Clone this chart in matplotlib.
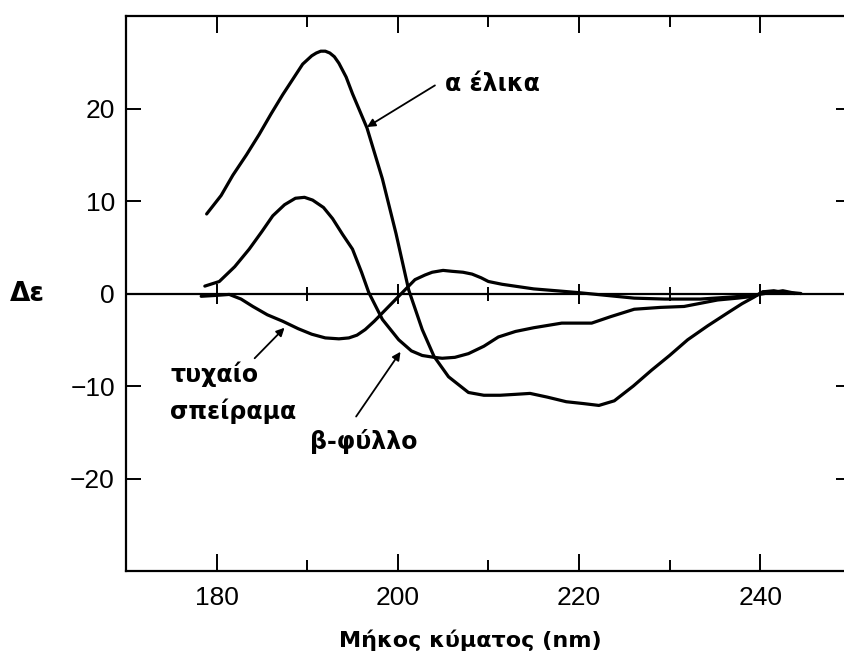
import matplotlib
matplotlib.use("Agg")
import matplotlib.pyplot as plt

# wavelength (nm) and delta-epsilon
alpha_nm = [178.9, 180.5, 181.8, 183.3, 184.7, 186.0, 187.3, 188.5, 189.5, 190.5, 191.0, 191.5, 192.0, 192.5,
            193.0, 193.5, 194.3, 195.0, 196.6, 198.3, 199.8, 201.2, 202.7, 204.0, 205.6, 207.8, 209.5,
            211.3, 213.0, 214.6, 216.5, 218.6, 220.5, 222.2, 223.9, 226.0, 228.0, 230.0, 232.0,
            234.2, 236.4, 238.0, 239.3, 240.3, 241.3, 242.5, 243.5, 244.5]
alpha_de = [8.6, 10.6, 12.8, 15.0, 17.2, 19.4, 21.5, 23.3, 24.8, 25.7, 26.0, 26.2, 26.2, 26.0,
            25.6, 24.9, 23.4, 21.6, 17.9, 12.4, 6.5, 0.4, -3.9, -6.8, -9.0, -10.7, -11.0,
            -11.0, -10.9, -10.8, -11.2, -11.7, -11.9, -12.1, -11.6, -10.0, -8.3, -6.7, -5.0,
            -3.5, -2.1, -1.1, -0.4, 0.2, 0.1, 0.3, 0.1, 0.0]

beta_nm = [178.7, 180.3, 182.0, 183.6, 185.0, 186.2, 187.5, 188.7, 189.7, 190.6, 191.8, 192.8,
           193.9, 195.0, 196.0, 196.8, 198.3, 200.1, 201.5, 202.7, 204.0, 204.9, 206.3, 207.8,
           209.5, 211.1, 213.0, 215.0, 218.1, 221.4, 223.5, 226.1, 229.0, 231.6, 235.3, 237.5,
           239.3, 240.5, 241.5, 242.7, 243.8]
beta_de = [0.8, 1.3, 2.9, 4.8, 6.7, 8.4, 9.6, 10.3, 10.4, 10.1, 9.3, 8.1,
           6.4, 4.8, 2.3, 0.1, -2.8, -5.0, -6.2, -6.7, -6.9, -7.0, -6.9, -6.5,
           -5.7, -4.7, -4.1, -3.7, -3.2, -3.2, -2.5, -1.7, -1.5, -1.4, -0.7, -0.5,
           -0.3, 0.2, 0.3, 0.1, 0.0]

coil_nm = [178.3, 180.0, 181.4, 182.7, 184.0, 185.6, 187.3, 189.0, 190.5, 192.0, 193.5, 194.6,
           195.5, 196.4, 197.4, 198.3, 199.2, 200.1, 201.0, 201.9, 203.0, 203.8, 205.0, 206.0,
           207.2, 208.2, 209.2, 210.0, 211.5, 212.9, 215.0, 218.1, 219.9, 223.0, 226.1, 229.5,
           233.4, 236.5, 239.3, 240.5]
coil_de = [-0.3, -0.2, -0.1, -0.6, -1.4, -2.3, -3.0, -3.8, -4.4, -4.8, -4.9, -4.8,
           -4.5, -3.9, -3.0, -2.1, -1.2, -0.3, 0.6, 1.5, 2.0, 2.3, 2.5, 2.4,
           2.3, 2.1, 1.7, 1.3, 1.0, 0.8, 0.5, 0.25, 0.1, -0.2, -0.5, -0.6,
           -0.6, -0.4, -0.2, 0.0]

major_nm = [180, 200, 220, 240]
minor_nm = [190, 210, 230]
yticks = [-20, -10, 0, 10, 20]
ylabels = ['\u221220', '\u221210', '0', '10', '20']

tick_font = ['Liberation Sans', 'DejaVu Sans']
bold_font = ['DejaVu Sans']

fig = plt.figure(figsize=(8.44, 6.57), dpi=100)
ax = fig.add_axes([0.1493, 0.1309, 0.8587, 0.8447])
ax.set_xlim(170, 250)
ax.set_ylim(-30, 30)

# zero line with its own cross ticks
ax.axhline(0, color='black', lw=1.6, zorder=1)
ax.plot(major_nm, [0] * len(major_nm), ls='none', marker='|', ms=15, mew=1.4, color='black')
ax.plot(minor_nm, [0] * len(minor_nm), ls='none', marker='|', ms=10, mew=1.4, color='black')

for xs, ys in [(alpha_nm, alpha_de), (beta_nm, beta_de), (coil_nm, coil_de)]:
    ax.plot(xs, ys, color='black', lw=2.3, solid_joinstyle='round', solid_capstyle='round', zorder=3)

for s in ax.spines.values():
    s.set_linewidth(1.6)

ax.set_xticks(major_nm)
ax.set_xticks(minor_nm, minor=True)
ax.set_yticks(yticks)
ax.set_yticklabels(ylabels)
ax.tick_params(which='both', direction='in', top=True, right=True, width=1.4, colors='black')
ax.tick_params(axis='x', which='major', length=12, pad=11, labelsize=19)
ax.tick_params(axis='x', which='minor', length=8)
ax.tick_params(axis='y', length=11, pad=8, labelsize=19)
for lab in ax.get_xticklabels() + ax.get_yticklabels():
    lab.set_family(tick_font)

fig.text(470 / 844, 1 - 640 / 657, 'Μήκος κύματος (nm)', fontsize=16, fontweight='bold',
         family=bold_font, ha='center', va='center')
fig.text(27 / 844, 1 - 294 / 657, 'Δε', fontsize=19, fontweight='bold', family=bold_font,
         ha='center', va='center')

arrow = dict(arrowstyle='-|>', lw=1.3, color='black', mutation_scale=12, shrinkA=0, shrinkB=0)
ax.annotate('', xy=(196.6, 18.0), xytext=(204.1, 22.5), arrowprops=arrow)
ax.text(205.2, 22.6, 'α έλικα', fontsize=17, fontweight='bold', family=bold_font,
        va='center', ha='left')
ax.annotate('', xy=(187.5, -3.7), xytext=(184.2, -7.0), arrowprops=arrow)
ax.text(174.9, -10.7, 'τυχαίο\nσπείραμα', fontsize=17, fontweight='bold', family=bold_font,
        va='center', ha='left', linespacing=1.55)
ax.annotate('', xy=(200.3, -6.3), xytext=(195.4, -13.3), arrowprops=arrow)
ax.text(190.3, -16.0, 'β-φύλλο', fontsize=17, fontweight='bold', family=bold_font,
        va='center', ha='left')

fig.savefig('out.png', dpi=100, facecolor='white')
